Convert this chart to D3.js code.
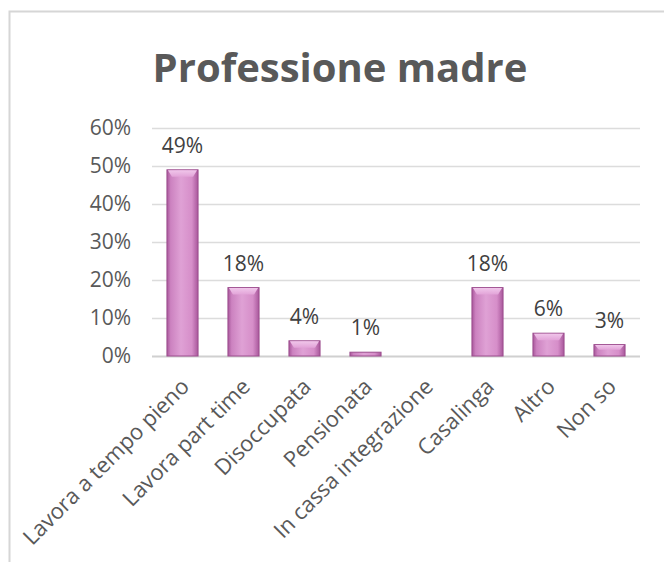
<!DOCTYPE html>
<html>
<head>
<meta charset="utf-8">
<script src="https://cdn.jsdelivr.net/npm/d3@7"></script>
<style>
  html, body { margin: 0; padding: 0; background: #fff; }
  svg { display: block; }
</style>
</head>
<body>
<svg id="chart" width="664" height="562"></svg>
<script>
// Chart data
const categories = ["Lavora a tempo pieno", "Lavora part time", "Disoccupata", "Pensionata",
                    "In cassa integrazione", "Casalinga", "Altro", "Non so"];
const values = [49, 18, 4, 1, 0, 18, 6, 3];
const yTicks = [0, 10, 20, 30, 40, 50, 60];
const title = "Professione madre";

const svg = d3.select("#chart");
const W = 664, H = 562;
const margin = { left: 152, right: 24, top: 128, bottom: 206 };
const font = "'Open Sans', 'Noto Sans', sans-serif";

const rows = categories.map((c, i) => ({ cat: c, val: values[i] }));

// Frame around the chart area
svg.append("path")
  .attr("d", `M9.5,${H} V11.5 H${W}`)
  .attr("fill", "none").attr("stroke", "#d6d6d6").attr("stroke-width", 2);

const x = d3.scaleBand().domain(categories)
  .range([margin.left, W - margin.right]).paddingInner(0.49).paddingOuter(0.245);
const y = d3.scaleLinear().domain([0, 60]).range([H - margin.bottom, margin.top]);

// Bar gradient: darker edges, lighter centre
const defs = svg.append("defs");
const grad = defs.append("linearGradient").attr("id", "barGrad")
  .attr("x1", "0").attr("x2", "1").attr("y1", "0").attr("y2", "0");
[["0%", "#a8579b"], ["12%", "#cc82c0"], ["45%", "#dfa1d5"], ["80%", "#d68ec9"], ["100%", "#a8579b"]]
  .forEach(([o, c]) => grad.append("stop").attr("offset", o).attr("stop-color", c));
const topGrad = defs.append("linearGradient").attr("id", "topGrad")
  .attr("x1", "0").attr("x2", "0").attr("y1", "0").attr("y2", "1");
[["0%", "#f0c6ea"], ["100%", "#e2a3d8"]]
  .forEach(([o, c]) => topGrad.append("stop").attr("offset", o).attr("stop-color", c));

// Gridlines
const grid = svg.append("g").attr("class", "grid");
grid.selectAll("line").data(yTicks).join("line")
  .attr("x1", margin.left).attr("x2", W - margin.right)
  .attr("y1", d => Math.round(y(d)) + 0.5).attr("y2", d => Math.round(y(d)) + 0.5)
  .attr("stroke", d => d === 0 ? "#d0d0d0" : "#dcdcdc").attr("stroke-width", d => d === 0 ? 2 : 1.5);

// Y axis labels
const yAxis = d3.axisLeft(y).tickValues(yTicks).tickFormat(d => d + "%").tickSize(0).tickPadding(0);
const ya = svg.append("g").attr("transform", `translate(${margin.left - 21},0)`).call(yAxis);
ya.select(".domain").remove();
ya.selectAll("text").attr("font-family", font).attr("font-size", 21).attr("fill", "#595959");

// Bars
const shown = rows.filter(r => r.val > 0);
const bars = svg.append("g");
bars.selectAll("rect.bar").data(shown).join("rect").attr("class", "bar")
  .attr("x", d => x(d.cat))
  .attr("y", d => y(d.val))
  .attr("width", x.bandwidth())
  .attr("height", d => y(0) - y(d.val))
  .attr("fill", "url(#barGrad)")
  .attr("stroke", "#9c4d8e").attr("stroke-width", 1);
// Bevelled top highlight
bars.selectAll("path.bevel").data(shown.filter(r => r.val > 1)).join("path").attr("class", "bevel")
  .attr("d", d => {
    const x0 = x(d.cat), w = x.bandwidth(), t = y(d.val);
    const h = Math.min(7, (y(0) - t) * 0.45);
    return `M${x0 + 1},${t + 0.5} H${x0 + w - 1} L${x0 + w - 5},${t + h} H${x0 + 5} Z`;
  })
  .attr("fill", "url(#topGrad)");

// Value labels
svg.append("g").selectAll("text").data(shown).join("text")
  .attr("x", d => x(d.cat) + x.bandwidth() / 2)
  .attr("y", d => y(d.val) - 17)
  .attr("text-anchor", "middle")
  .attr("font-family", font).attr("font-size", 21).attr("fill", "#404040")
  .text(d => d.val + "%");

// Category labels, rotated
const xAxis = d3.axisBottom(x).tickSize(0).tickPadding(0);
const xa = svg.append("g").attr("transform", `translate(0,${y(0)})`).call(xAxis);
xa.select(".domain").remove();
xa.selectAll("text")
  .attr("font-family", font).attr("font-size", 22).attr("fill", "#595959")
  .attr("text-anchor", "end").attr("dy", null).attr("y", 0)
  .attr("transform", "translate(8,32) rotate(-45)");

// Title
svg.append("text")
  .attr("x", 340).attr("y", 82)
  .attr("text-anchor", "middle")
  .attr("font-family", font).attr("font-weight", "bold").attr("font-size", 40)
  .attr("fill", "#595959")
  .text(title);
</script>
</body>
</html>
